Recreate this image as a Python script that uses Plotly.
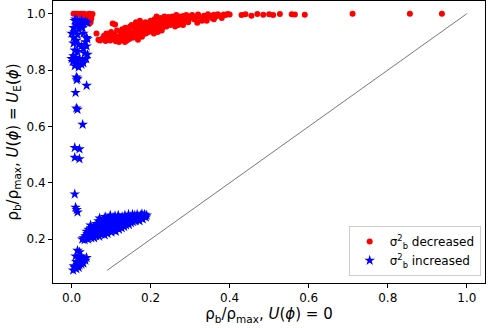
import plotly.graph_objects as go

# sigma_b^2 decreased (red dots)
red_x = [
    0.005, 0.01, 0.013, 0.016, 0.02, 0.024, 0.028, 0.031, 0.035, 0.04, 0.045, 0.05, 0.053,
    0.03, 0.035, 0.04, 0.045, 0.05, 0.042, 0.048, 0.038, 0.045, 0.05, 0.044,
    0.063, 0.068, 0.072, 0.078, 0.082, 0.086, 0.09, 0.094, 0.098, 0.1, 0.095, 0.088,
    0.104, 0.11, 0.105, 0.108, 0.112, 0.115, 0.118, 0.122, 0.125, 0.128, 0.13, 0.133, 0.136,
    0.138, 0.14, 0.142, 0.145, 0.148, 0.15, 0.12, 0.135, 0.146,
    0.152, 0.155, 0.158, 0.16, 0.162, 0.165, 0.167, 0.17, 0.172, 0.175, 0.177, 0.18, 0.182,
    0.185, 0.187, 0.19, 0.192, 0.195, 0.197, 0.2, 0.168, 0.178, 0.188, 0.198, 0.163, 0.173,
    0.202, 0.205, 0.207, 0.21, 0.212, 0.215, 0.218, 0.22, 0.222, 0.225, 0.228, 0.23, 0.232,
    0.235, 0.238, 0.24, 0.242, 0.245, 0.248, 0.25, 0.208, 0.218, 0.228, 0.215, 0.235,
    0.252, 0.255, 0.258, 0.26, 0.263, 0.265, 0.268, 0.27, 0.273, 0.275, 0.278, 0.28, 0.283,
    0.285, 0.288, 0.29, 0.293, 0.295, 0.298, 0.3, 0.262, 0.282,
    0.305, 0.31, 0.315, 0.32, 0.325, 0.33, 0.335, 0.34, 0.345, 0.35, 0.355, 0.36, 0.365,
    0.37, 0.375, 0.38, 0.385, 0.39, 0.395, 0.4, 0.318, 0.342, 0.36,
    0.43, 0.44, 0.455, 0.47, 0.485, 0.5, 0.51, 0.527, 0.557, 0.565, 0.59, 0.711, 0.856, 0.937,
]
red_y = [
    1.0, 1.0, 0.999, 1.0, 0.998, 1.0, 0.997, 1.0, 0.996, 0.998, 1.0, 0.995, 0.999,
    0.99, 0.985, 0.988, 0.98, 0.99, 0.975, 0.97, 0.978, 0.965, 0.982, 0.985,
    0.93, 0.908, 0.905, 0.912, 0.922, 0.903, 0.915, 0.928, 0.905, 0.935, 0.918, 0.93,
    0.965, 0.962, 0.91, 0.925, 0.902, 0.94, 0.918, 0.905, 0.93, 0.945, 0.912, 0.925, 0.95,
    0.935, 0.905, 0.92, 0.94, 0.955, 0.928, 0.9, 0.9, 0.91,
    0.96, 0.915, 0.935, 0.948, 0.925, 0.96, 0.94, 0.92, 0.952, 0.935, 0.965, 0.945, 0.928,
    0.958, 0.97, 0.94, 0.952, 0.935, 0.962, 0.975, 0.908, 0.918, 0.93, 0.945, 0.97, 0.975,
    0.955, 0.94, 0.968, 0.98, 0.95, 0.962, 0.945, 0.975, 0.958, 0.985, 0.965, 0.95, 0.972,
    0.96, 0.98, 0.955, 0.968, 0.988, 0.975, 0.96, 0.93, 0.935, 0.94, 0.99, 0.99,
    0.978, 0.99, 0.965, 0.982, 0.972, 0.995, 0.985, 0.96, 0.975, 0.99, 0.98, 0.968, 0.992,
    0.985, 0.975, 0.995, 0.982, 0.97, 0.99, 0.985, 0.955, 0.96,
    0.995, 0.98, 0.99, 0.997, 0.985, 0.975, 0.993, 0.988, 0.998, 0.992, 0.985, 0.996, 0.99,
    0.998, 0.993, 0.985, 0.997, 0.995, 0.999, 0.997, 0.968, 0.975, 0.98,
    0.995, 0.998, 0.993, 0.999, 0.996, 0.998, 0.995, 0.999, 0.998, 0.997, 0.996, 1.0, 1.0, 1.0,
]

# sigma_b^2 increased (blue stars)
blue_x = [
    0.01, 0.015, 0.02, 0.025, 0.03, 0.035, 0.04, 0.012, 0.022, 0.005, 0.018, 0.028, 0.008,
    0.015, 0.0, 0.005, 0.012, 0.03, 0.038, 0.04, 0.035, 0.018, 0.025, 0.03, 0.008, 0.015,
    0.033, 0.005, 0.01, 0.0, 0.02, 0.028, 0.035, 0.003, 0.012, 0.025, 0.03, 0.008, 0.018,
    0.04, 0.038, 0.037, 0.008, 0.005,
    0.012, 0.015, 0.013, 0.01, 0.038, 0.012, 0.015, 0.028, 0.008, 0.02, 0.008, 0.02,
    0.008, 0.01, 0.013, 0.015,
    0.027, 0.03, 0.033, 0.035, 0.038, 0.04, 0.042, 0.045, 0.047, 0.05, 0.05, 0.043, 0.038, 0.048,
    0.052, 0.055, 0.057, 0.058, 0.06, 0.062, 0.063, 0.065, 0.067, 0.068, 0.07, 0.071, 0.072,
    0.074, 0.075, 0.077, 0.078, 0.08, 0.08,
    0.082, 0.084, 0.085, 0.086, 0.088, 0.09, 0.091, 0.093, 0.095, 0.096, 0.098, 0.1, 0.101,
    0.103, 0.105, 0.106, 0.108, 0.11, 0.11,
    0.112, 0.114, 0.115, 0.117, 0.118, 0.12, 0.122, 0.123, 0.125, 0.127, 0.128, 0.13, 0.132,
    0.133, 0.135, 0.137, 0.138, 0.14,
    0.142, 0.144, 0.145, 0.147, 0.149, 0.15, 0.152, 0.154, 0.155, 0.157, 0.159, 0.16, 0.162,
    0.164, 0.166, 0.168, 0.17, 0.172, 0.174, 0.176, 0.178, 0.18, 0.182, 0.185, 0.188, 0.19,
    0.015, 0.02, 0.01, 0.018, 0.025, 0.03, 0.022, 0.012, 0.028, 0.035, 0.015, 0.02, 0.025,
    0.008, 0.012, 0.004, 0.018, 0.03, 0.038, 0.006,
]
blue_y = [
    0.98, 0.975, 0.97, 0.978, 0.965, 0.972, 0.968, 0.96, 0.955, 0.95, 0.945, 0.95, 0.935,
    0.925, 0.93, 0.915, 0.905, 0.93, 0.915, 0.91, 0.9, 0.89, 0.885, 0.875, 0.87, 0.865,
    0.86, 0.85, 0.845, 0.84, 0.84, 0.835, 0.84, 0.83, 0.825, 0.82, 0.825, 0.815, 0.81,
    0.855, 0.885, 0.84, 0.975, 0.895,
    0.775, 0.77, 0.765, 0.72, 0.745, 0.665, 0.66, 0.607, 0.525, 0.52, 0.49, 0.485,
    0.36, 0.313, 0.305, 0.296,
    0.2, 0.205, 0.198, 0.212, 0.205, 0.22, 0.2, 0.215, 0.228, 0.205, 0.24, 0.235, 0.228, 0.25,
    0.215, 0.225, 0.205, 0.245, 0.232, 0.212, 0.255, 0.222, 0.24, 0.265, 0.21, 0.275, 0.232,
    0.25, 0.218, 0.26, 0.238, 0.27, 0.225,
    0.245, 0.215, 0.28, 0.258, 0.232, 0.268, 0.22, 0.25, 0.275, 0.238, 0.285, 0.262, 0.225,
    0.245, 0.278, 0.232, 0.265, 0.252, 0.283,
    0.228, 0.27, 0.242, 0.258, 0.285, 0.235, 0.275, 0.25, 0.262, 0.24, 0.28, 0.255, 0.268,
    0.245, 0.285, 0.26, 0.25, 0.275,
    0.262, 0.288, 0.252, 0.27, 0.28, 0.258, 0.272, 0.288, 0.262, 0.278, 0.268, 0.285, 0.265,
    0.275, 0.288, 0.27, 0.28, 0.265, 0.285, 0.275, 0.29, 0.272, 0.282, 0.288, 0.278, 0.285,
    0.16, 0.155, 0.14, 0.135, 0.14, 0.13, 0.125, 0.12, 0.12, 0.125, 0.11, 0.108, 0.112,
    0.1, 0.095, 0.09, 0.1, 0.115, 0.135, 0.105,
]

diag_x = [0.09, 1.0]
diag_y = [0.09, 1.0]

sym = "σ<sup>2</sup><sub>b</sub>"

fig = go.Figure()

fig.add_trace(go.Scatter(
    x=diag_x, y=diag_y, mode='lines',
    line=dict(color='#555555', width=0.8),
    showlegend=False, hoverinfo='skip'
))

fig.add_trace(go.Scatter(
    x=red_x, y=red_y, mode='markers',
    name=f'{sym} decreased',
    marker=dict(color='red', size=6, symbol='circle', line=dict(width=0))
))

fig.add_trace(go.Scatter(
    x=blue_x, y=blue_y, mode='markers',
    name=f'{sym} increased',
    marker=dict(color='blue', size=8, symbol='star', line=dict(width=0))
))

axis_common = dict(
    showgrid=False, zeroline=False,
    showline=True, linecolor='black', linewidth=1, mirror=True,
    ticks='outside', ticklen=4, tickcolor='black',
    tickfont=dict(size=12, color='black'),
    tickformat='.1f',
)

fig.update_layout(
    width=488, height=328,
    margin=dict(l=53, r=3, t=1, b=45),
    plot_bgcolor='white', paper_bgcolor='white',
    font=dict(family='DejaVu Sans', color='black'),
    xaxis=dict(
        range=[-0.047, 1.046], tickvals=[0, 0.2, 0.4, 0.6, 0.8, 1.0],
        title=dict(text='ρ<sub>b</sub>/ρ<sub>max</sub>, <i>U</i>(<i>ϕ</i>) = 0',
                   font=dict(size=15), standoff=4),
        **axis_common
    ),
    yaxis=dict(
        range=[0.045, 1.045], tickvals=[0.2, 0.4, 0.6, 0.8, 1.0],
        title=dict(text='ρ<sub>b</sub>/ρ<sub>max</sub>, <i>U</i>(<i>ϕ</i>) = <i>U</i><sub>E</sub>(<i>ϕ</i>)',
                   font=dict(size=15), standoff=4),
        **axis_common
    ),
    legend=dict(
        x=0.99, y=0.025, xanchor='right', yanchor='bottom',
        bgcolor='rgba(255,255,255,0.8)', bordercolor='#cccccc', borderwidth=1,
        font=dict(size=12), itemwidth=30, tracegroupgap=0,
    ),
    showlegend=True,
)

fig.write_html(
    "out.html",
    config={'displayModeBar': False},
    post_script="document.body.style.margin='0';document.body.style.overflow='hidden';",
)
